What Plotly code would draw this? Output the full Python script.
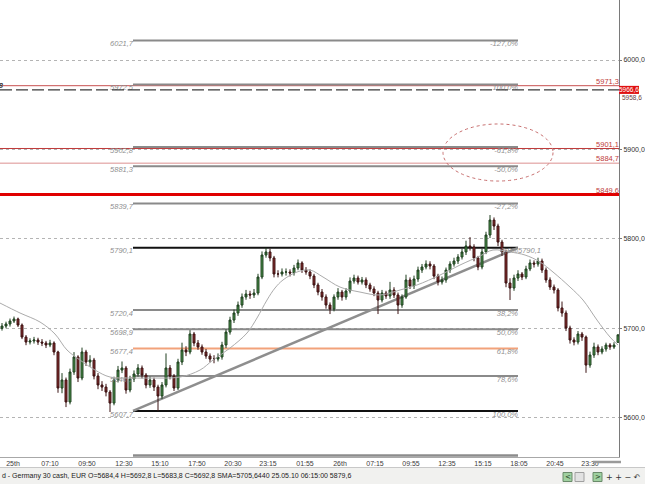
import plotly.graph_objects as go

# ---------------- data ----------------
opens = [5700.0, 5702.6, 5704.9, 5708.2, 5710.5, 5703.7, 5690.3, 5684.7, 5685.9, 5687.0,
         5684.7, 5683.6, 5681.4, 5683.6, 5673.6, 5633.3, 5642.3, 5617.7, 5651.2, 5668.0,
         5644.5, 5673.6, 5662.4, 5664.6, 5646.7, 5636.7, 5634.4, 5628.8, 5616.5, 5642.3,
         5653.4, 5655.7, 5631.1, 5643.4, 5649.0, 5655.7, 5647.8, 5636.7, 5642.3, 5634.4,
         5624.4, 5636.7, 5655.7, 5646.7, 5633.3, 5662.4, 5675.8, 5673.6, 5693.7, 5683.6,
         5679.2, 5673.6, 5669.1, 5665.7, 5665.7, 5668.0, 5681.4, 5695.9, 5709.3, 5717.2,
         5726.1, 5735.1, 5738.4, 5737.3, 5739.5, 5757.4, 5782.0, 5785.4, 5778.7, 5760.8,
         5760.8, 5763.0, 5763.0, 5761.9, 5767.5, 5773.1, 5765.2, 5763.0, 5758.5, 5748.5,
         5740.6, 5735.1, 5726.1, 5721.6, 5735.1, 5740.6, 5735.1, 5741.8, 5752.9, 5756.3,
         5751.8, 5754.1, 5748.5, 5744.0, 5739.5, 5731.7, 5739.5, 5736.2, 5742.9, 5737.3,
         5726.1, 5735.1, 5754.1, 5747.4, 5755.2, 5765.2, 5768.6, 5771.9, 5769.7, 5758.5,
         5751.8, 5754.1, 5765.2, 5771.9, 5775.3, 5779.8, 5785.4, 5792.1, 5791.0, 5778.7,
         5768.6, 5785.4, 5804.4, 5821.1, 5814.4, 5796.5, 5785.4, 5750.7, 5745.1, 5756.3,
         5760.8, 5757.4, 5766.4, 5773.1, 5771.9, 5775.3, 5765.2, 5754.1, 5746.2, 5742.9,
         5722.8, 5717.2, 5700.4, 5687.0, 5684.7, 5693.7, 5690.3, 5659.0, 5670.2, 5679.2,
         5673.6, 5676.9, 5681.4, 5679.2, 5684.4]

highs = [5706.0, 5707.5, 5711.0, 5713.2, 5712.0, 5705.5, 5692.5, 5689.0, 5690.5, 5689.5,
         5688.0, 5686.0, 5687.2, 5685.5, 5675.0, 5650.0, 5645.0, 5655.0, 5673.5, 5670.0,
         5678.5, 5676.0, 5670.0, 5667.0, 5650.0, 5641.0, 5638.0, 5631.0, 5646.0, 5658.0,
         5663.0, 5658.0, 5647.0, 5653.0, 5660.0, 5658.5, 5650.0, 5646.0, 5645.0, 5637.0,
         5640.0, 5672.0, 5659.0, 5649.0, 5666.0, 5684.0, 5680.0, 5698.0, 5696.0, 5687.0,
         5682.0, 5677.0, 5672.0, 5670.0, 5672.0, 5685.0, 5699.0, 5713.0, 5721.0, 5730.0,
         5739.0, 5743.0, 5742.0, 5744.0, 5761.0, 5786.0, 5790.1, 5789.0, 5781.0, 5765.0,
         5767.0, 5767.0, 5766.0, 5771.0, 5777.0, 5775.0, 5768.5, 5766.0, 5761.0, 5751.0,
         5744.0, 5738.0, 5729.0, 5738.0, 5745.0, 5743.0, 5745.0, 5757.0, 5760.0, 5759.0,
         5757.5, 5757.0, 5751.0, 5747.0, 5742.0, 5743.0, 5742.0, 5752.0, 5746.0, 5740.0,
         5738.0, 5760.0, 5757.0, 5759.0, 5769.0, 5772.0, 5776.0, 5775.0, 5772.0, 5761.0,
         5758.0, 5768.0, 5775.0, 5779.0, 5783.0, 5789.0, 5798.0, 5802.0, 5794.0, 5781.0,
         5789.0, 5808.0, 5826.7, 5824.0, 5817.0, 5799.0, 5788.0, 5756.0, 5760.0, 5765.0,
         5763.0, 5770.0, 5777.0, 5776.0, 5779.0, 5778.0, 5768.0, 5757.0, 5749.0, 5745.0,
         5730.0, 5720.0, 5703.0, 5690.0, 5697.0, 5696.0, 5692.0, 5674.0, 5684.0, 5682.0,
         5680.0, 5684.0, 5683.5, 5684.5, 5692.8]

lows = [5697.5, 5700.1, 5702.0, 5706.0, 5701.5, 5688.0, 5681.2, 5682.0, 5683.0, 5681.5,
        5680.2, 5678.0, 5679.0, 5670.0, 5628.0, 5627.5, 5612.0, 5615.0, 5648.0, 5640.0,
        5642.0, 5658.0, 5657.0, 5643.0, 5632.0, 5630.0, 5624.0, 5606.5, 5614.0, 5639.5,
        5650.0, 5627.0, 5628.5, 5640.0, 5646.0, 5644.0, 5633.0, 5633.5, 5630.0, 5607.7,
        5621.0, 5634.0, 5643.0, 5630.0, 5631.0, 5659.0, 5669.0, 5671.0, 5680.0, 5676.0,
        5670.5, 5666.0, 5662.0, 5661.0, 5663.0, 5665.0, 5678.0, 5693.0, 5706.0, 5714.0,
        5723.0, 5732.0, 5733.0, 5734.0, 5737.0, 5755.0, 5779.0, 5775.0, 5757.0, 5757.0,
        5758.0, 5759.0, 5758.0, 5759.0, 5765.0, 5762.0, 5760.0, 5755.0, 5745.0, 5737.0,
        5731.0, 5722.0, 5716.0, 5719.0, 5732.0, 5731.0, 5732.0, 5739.0, 5750.0, 5749.0,
        5749.0, 5745.0, 5741.0, 5736.0, 5716.0, 5729.0, 5733.0, 5733.0, 5734.0, 5716.0,
        5723.0, 5733.0, 5744.0, 5744.0, 5752.0, 5762.0, 5766.0, 5766.0, 5755.0, 5748.0,
        5749.0, 5751.0, 5762.0, 5769.0, 5772.0, 5777.0, 5782.0, 5787.0, 5775.0, 5765.0,
        5766.0, 5783.0, 5801.0, 5810.0, 5792.0, 5781.0, 5746.0, 5731.7, 5742.0, 5753.0,
        5754.0, 5755.0, 5764.0, 5768.0, 5769.0, 5762.0, 5751.0, 5743.0, 5739.0, 5719.0,
        5713.0, 5697.0, 5683.0, 5681.0, 5682.0, 5686.0, 5650.3, 5656.0, 5667.0, 5670.0,
        5671.0, 5674.0, 5676.0, 5677.0, 5683.8]

closes = [5702.6, 5704.9, 5708.2, 5710.5, 5703.7, 5690.3, 5684.7, 5685.9, 5687.0, 5684.7,
          5683.6, 5681.4, 5683.6, 5673.6, 5633.3, 5642.3, 5617.7, 5651.2, 5668.0, 5644.5,
          5673.6, 5662.4, 5664.6, 5646.7, 5636.7, 5634.4, 5628.8, 5616.5, 5642.3, 5653.4,
          5655.7, 5631.1, 5643.4, 5649.0, 5655.7, 5647.8, 5636.7, 5642.3, 5634.4, 5624.4,
          5636.7, 5655.7, 5646.7, 5633.3, 5662.4, 5675.8, 5673.6, 5693.7, 5683.6, 5679.2,
          5673.6, 5669.1, 5665.7, 5665.7, 5668.0, 5681.4, 5695.9, 5709.3, 5717.2, 5726.1,
          5735.1, 5738.4, 5737.3, 5739.5, 5757.4, 5782.0, 5785.4, 5778.7, 5760.8, 5760.8,
          5763.0, 5763.0, 5761.9, 5767.5, 5773.1, 5765.2, 5763.0, 5758.5, 5748.5, 5740.6,
          5735.1, 5726.1, 5721.6, 5735.1, 5740.6, 5735.1, 5741.8, 5752.9, 5756.3, 5751.8,
          5754.1, 5748.5, 5744.0, 5739.5, 5731.7, 5739.5, 5736.2, 5742.9, 5737.3, 5726.1,
          5735.1, 5754.1, 5747.4, 5755.2, 5765.2, 5768.6, 5771.9, 5769.7, 5758.5, 5751.8,
          5754.1, 5765.2, 5771.9, 5775.3, 5779.8, 5785.4, 5792.1, 5791.0, 5778.7, 5768.6,
          5785.4, 5804.4, 5821.1, 5814.4, 5796.5, 5785.4, 5750.7, 5745.1, 5756.3, 5760.8,
          5757.4, 5766.4, 5773.1, 5771.9, 5775.3, 5765.2, 5754.1, 5746.2, 5742.9, 5722.8,
          5717.2, 5700.4, 5687.0, 5684.7, 5693.7, 5690.3, 5659.0, 5670.2, 5679.2, 5673.6,
          5676.9, 5681.4, 5679.2, 5681.4, 5692.8]

bars = list(range(len(closes)))

sma_bar = [-0.5, 4.5, 9.5, 13.25, 16.25, 19.5, 23.25, 27, 32.75, 37, 44.5, 49.5, 52.75, 57,
           61.25, 63.75, 66.25, 68.25, 70.25, 73.75, 77, 80.25, 84.5, 89.5, 94.5, 99.5,
           103.75, 109.5, 114.5, 119.5, 122.75, 127, 130.75, 134.5, 137.75, 142, 145.25,
           148.75, 152, 154]
sma_val = [5728.3, 5717.2, 5707.1, 5693.7, 5675.8, 5664.6, 5653.4, 5645.6, 5644.5, 5644.5,
           5645.6, 5653.4, 5664.6, 5678.0, 5694.8, 5711.6, 5731.7, 5745.1, 5754.1, 5763.0,
           5765.2, 5757.4, 5746.2, 5740.6, 5737.3, 5742.9, 5748.5, 5759.6, 5770.8, 5780.9,
           5787.6, 5785.4, 5782.0, 5774.2, 5763.0, 5746.2, 5731.7, 5709.3, 5690.3, 5681.4]

tick_pos = [2.75, 12, 21.25, 30.5, 39.5, 48.75, 57.75, 66.5, 75.75, 84.5, 93.25, 102.25,
            111.25, 120.25, 129.25, 138.25, 147]
tick_text = ["25th", "07:10", "09:50", "12:30", "15:10", "17:50", "20:30", "23:15", "01:55",
             "26th", "07:15", "09:55", "12:35", "15:15", "18:05", "20:45", "23:30"]

y_ticks = [5600, 5700, 5800, 5900, 6000]
y_tick_text = ["5600,0", "5700,0", "5800,0", "5900,0", "6000,0"]

fib_levels = [6021.7, 5972.5, 5902.8, 5881.3, 5839.7, 5790.1, 5720.4, 5698.9, 5677.4, 5646.7, 5607.7]
fib_price_text = ["6021,7", "5972,5", "5902,8", "5881,3", "5839,7", "5790,1", "5720,4",
                  "5698,9", "5677,4", "5646,7", "5607,7"]
fib_pct_text = ["-127,0%", "100,0%", "-61,8%", "-50,0%", "-27,2%", "0,0%", "38,2%",
                "50,0%", "61,8%", "78,6%", "100,0%"]
fib_start, fib_end = 32.75, 129.0

red_levels = [5971.3, 5901.1, 5884.7, 5849.6]
red_text = ["5971,3", "5901,1", "5884,7", "5849,6"]
dashed_level = 5966.6

ellipse_x = [110.25, 137.75]
ellipse_y = [5864.7, 5928.5]

status_text = ("d - Germany 30 cash, EUR O=5684,4 H=5692,8 L=5683,8 C=5692,8 "
               "SMA=5705,6440 25.05.10 06:15:00 5879,6")

# ---------------- styling ----------------
PLOT_W, PLOT_H = 619, 457
FONT = "Liberation Sans"
fib_colors = ["#8a8a8a"] * 5 + ["#111111"] + ["#8a8a8a"] * 2 + ["#f2a27a"] + ["#8a8a8a", "#111111"]
red_colors = ["#c85050", "#c03a3a", "#dc9090", "#e00000"]
red_widths = [1, 1, 1, 3]


def px_x(px):
    return px / PLOT_W


def px_y(py):
    return (PLOT_H - py) / PLOT_H


fig = go.Figure()

# labels first so candles are drawn over them
fig.add_trace(go.Scatter(
    x=[fib_start] * len(fib_levels), y=fib_levels, mode="text", text=fib_price_text,
    textposition="bottom left", cliponaxis=False, hoverinfo="skip",
    textfont=dict(family=FONT, size=7.5, color="#8f8f8f", style="italic")))
fig.add_trace(go.Scatter(
    x=[fib_end] * len(fib_levels), y=fib_levels, mode="text", text=fib_pct_text,
    textposition="bottom left", cliponaxis=False, hoverinfo="skip",
    textfont=dict(family=FONT, size=7.5, color="#8f8f8f", style="italic")))
fig.add_trace(go.Scatter(
    x=[fib_end], y=[fib_levels[5]], mode="text", text=[fib_price_text[5]],
    textposition="bottom right", cliponaxis=False, hoverinfo="skip",
    textfont=dict(family=FONT, size=7.5, color="#8f8f8f", style="italic")))
fig.add_trace(go.Scatter(
    x=[154.25] * len(red_levels), y=red_levels, mode="text", text=red_text,
    textposition="top left", cliponaxis=False, hoverinfo="skip",
    textfont=dict(family=FONT, size=7.5, color="#c03c3c")))

fig.add_trace(go.Candlestick(
    x=bars, open=opens, high=highs, low=lows, close=closes,
    increasing=dict(line=dict(color="#1f3f1f", width=1), fillcolor="#4a944a"),
    decreasing=dict(line=dict(color="#3a1212", width=1), fillcolor="#8a2c2c"),
    whiskerwidth=0, hoverinfo="skip"))

fig.add_trace(go.Scatter(
    x=sma_bar, y=sma_val, mode="lines", line=dict(color="#ababab", width=1, shape="spline"),
    hoverinfo="skip"))

shapes = []
for lvl, col in zip(fib_levels, fib_colors):
    shapes.append(dict(type="line", xref="x", yref="y", x0=fib_start, x1=fib_end, y0=lvl, y1=lvl,
                       line=dict(color=col, width=2), layer="between"))
# trendline
shapes.append(dict(type="line", xref="x", yref="y", x0=fib_start, y0=fib_levels[-1],
                   x1=fib_end, y1=fib_levels[5], line=dict(color="#8e8e8e", width=2.5),
                   layer="between"))
for lvl, col, w in zip(red_levels, red_colors, red_widths):
    shapes.append(dict(type="line", xref="paper", yref="y", x0=0, x1=1, y0=lvl, y1=lvl,
                       line=dict(color=col, width=w), layer="between"))
shapes.append(dict(type="line", xref="paper", yref="y", x0=0, x1=1, y0=dashed_level,
                   y1=dashed_level, line=dict(color="#3a3a3a", width=1.3, dash="12px,4px")))
shapes.append(dict(type="circle", xref="x", yref="y", x0=ellipse_x[0], x1=ellipse_x[1],
                   y0=ellipse_y[0], y1=ellipse_y[1],
                   line=dict(color="#c87070", width=1, dash="dot")))
# bottom scroll bars
shapes.append(dict(type="line", xref="x", yref="paper", x0=fib_start, x1=fib_end,
                   y0=px_y(455.5), y1=px_y(455.5), line=dict(color="#8c8c8c", width=2.5)))
shapes.append(dict(type="line", xref="paper", yref="paper", x0=px_x(593), x1=px_x(621),
                   y0=px_y(462), y1=px_y(462), line=dict(color="#9a9a9a", width=2.5)))
# red price box on axis
shapes.append(dict(type="rect", xref="paper", yref="y", x0=px_x(619), x1=px_x(639),
                   y0=dashed_level - 4.5, y1=dashed_level + 4.5,
                   fillcolor="#e01010", line=dict(width=0)))
# status bar
shapes.append(dict(type="rect", xref="paper", yref="paper", x0=0, x1=px_x(645),
                   y0=px_y(484), y1=px_y(467.5), fillcolor="#f1f1ef", line=dict(width=0)))
shapes.append(dict(type="line", xref="paper", yref="paper", x0=0, x1=px_x(645),
                   y0=px_y(467.5), y1=px_y(467.5), line=dict(color="#c8c8c8", width=1)))
for bx, fc in [(563, "#9fd09f"), (575, "#e2e2e2"), (593, "#9fd09f")]:
    shapes.append(dict(type="rect", xref="paper", yref="paper", x0=px_x(bx), x1=px_x(bx + 9),
                       y0=px_y(481.5), y1=px_y(472.5), fillcolor=fc,
                       line=dict(color="#6a8a6a" if fc != "#e2e2e2" else "#a0a0a0", width=1)))

annotations = [
    dict(text="5966,6", xref="paper", yref="y", x=px_x(629), y=dashed_level, showarrow=False,
         font=dict(family=FONT, size=6.5, color="white"), xanchor="center", yanchor="middle"),
    dict(text="5958,6", xref="paper", yref="y", x=px_x(620), y=dashed_level - 8.5, showarrow=False,
         font=dict(family=FONT, size=6.5, color="#6a4040"), xanchor="left", yanchor="middle"),
    dict(text="5966,8", xref="paper", yref="y", x=px_x(6), y=5972.0, showarrow=False,
         font=dict(family=FONT, size=7.5, color="#333333", style="italic", weight="bold"),
         xanchor="right", yanchor="middle"),
    dict(text=status_text, xref="paper", yref="paper", x=0, y=px_y(475.5), showarrow=False,
         font=dict(family=FONT, size=7, color="#222222"), xanchor="left", yanchor="middle"),
    dict(text="<", xref="paper", yref="paper", x=px_x(567.5), y=px_y(477), showarrow=False,
         font=dict(family="DejaVu Sans", size=7, color="#1a3a1a"), xanchor="center", yanchor="middle"),
    dict(text=">", xref="paper", yref="paper", x=px_x(597.5), y=px_y(477), showarrow=False,
         font=dict(family="DejaVu Sans", size=7, color="#1a3a1a"), xanchor="center", yanchor="middle"),
    dict(text="+ + − ↶", xref="paper", yref="paper", x=px_x(604), y=px_y(477), showarrow=False,
         font=dict(family="DejaVu Sans", size=8, color="#333333"), xanchor="left", yanchor="middle"),
]

fig.update_layout(
    width=645, height=484, autosize=False,
    margin=dict(l=0, r=26, t=0, b=27, pad=0),
    paper_bgcolor="white", plot_bgcolor="white", showlegend=False,
    font=dict(family=FONT, size=7, color="#333333"),
    shapes=shapes, annotations=annotations,
    xaxis=dict(range=[-0.5, 154.25], tickmode="array", tickvals=tick_pos, ticktext=tick_text,
               showgrid=False, zeroline=False, showline=True, linecolor="#a8a8a8", linewidth=1,
               ticks="", tickfont=dict(family=FONT, size=7, color="#404040"),
               rangeslider=dict(visible=False), fixedrange=True),
    yaxis=dict(side="right", range=[5556.2, 6067.1], tickmode="array", tickvals=y_ticks,
               ticktext=y_tick_text, showgrid=True, gridcolor="#b4b4b4", griddash="dot",
               gridwidth=1, zeroline=False, showline=True, linecolor="#7a7a7a", linewidth=1,
               ticks="outside", ticklen=2, tickcolor="#7a7a7a",
               tickfont=dict(family=FONT, size=7, color="#303030"), fixedrange=True),
)

fig.write_html("out.html", config={"displayModeBar": False},
               post_script="document.body.style.margin='0';document.body.style.overflow='hidden';")
